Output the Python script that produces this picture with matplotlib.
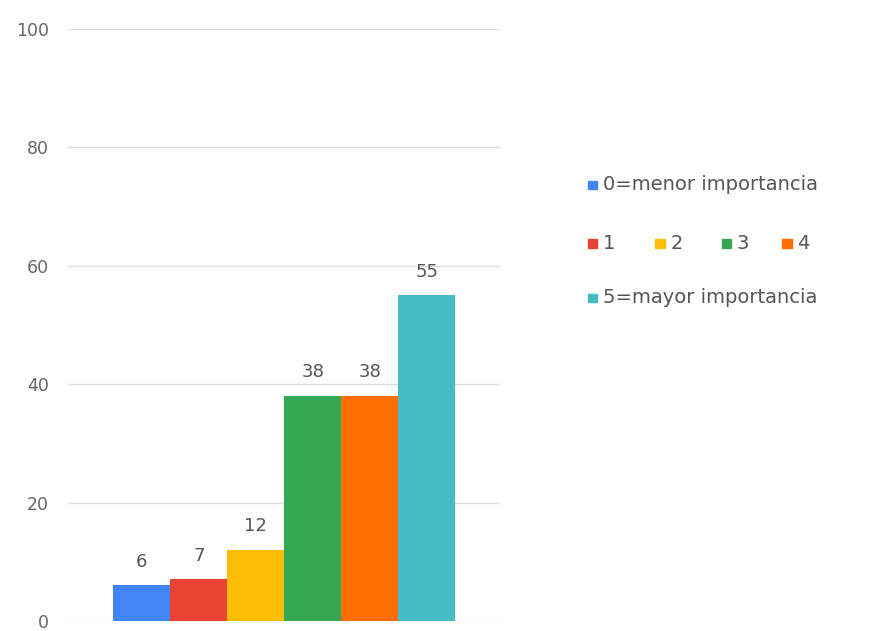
import matplotlib
matplotlib.use('agg')
import matplotlib.pyplot as plt
from matplotlib.patches import Rectangle

categories = ['0=menor importancia', '1', '2', '3', '4', '5=mayor importancia']
values = [6, 7, 12, 38, 38, 55]
colors = ['#4285F4', '#EA4335', '#FBBC04', '#34A853', '#FF6D01', '#46BDC6']
yticks = [0, 20, 40, 60, 80, 100]

fig = plt.figure(figsize=(8.76, 6.31), dpi=100)
ax = fig.add_axes([0.078, 0.016, 0.493, 0.938])

width = 0.132
offsets = [(i - 2.5) * width for i in range(len(values))]
bars = ax.bar(offsets, values, width=width, color=colors, zorder=3)
for b, v in zip(bars, values):
    ax.text(b.get_x() + b.get_width() / 2, v + 2.5, str(v), ha='center', va='bottom',
            fontsize=13, color='#555555')

ax.set_xlim(-0.5, 0.5)
ax.set_ylim(0, 100)
ax.set_yticks(yticks)
ax.set_yticklabels([str(t) for t in yticks])
ax.set_xticks([])
ax.grid(axis='y', color='#dddddd', linewidth=1, zorder=0)
for sp in ax.spines.values():
    sp.set_visible(False)
ax.tick_params(axis='y', length=0, pad=14, labelsize=12.5, labelcolor='#666666')

# legend drawn by hand: first item, a row of 1-4, last item
def legend_item(x, y, color, label):
    fig.add_artist(Rectangle((x, y - 0.0065), 0.011, 0.013, transform=fig.transFigure,
                             color=color))
    fig.text(x + 0.017, y, label, fontsize=14, color='#555555', va='center')

legend_item(0.671, 0.707, colors[0], categories[0])
row_x = [0.671, 0.748, 0.824, 0.893]
for x, c, lab in zip(row_x, colors[1:5], categories[1:5]):
    legend_item(x, 0.614, c, lab)
legend_item(0.671, 0.528, colors[5], categories[5])

plt.savefig('out.png', dpi=100)
